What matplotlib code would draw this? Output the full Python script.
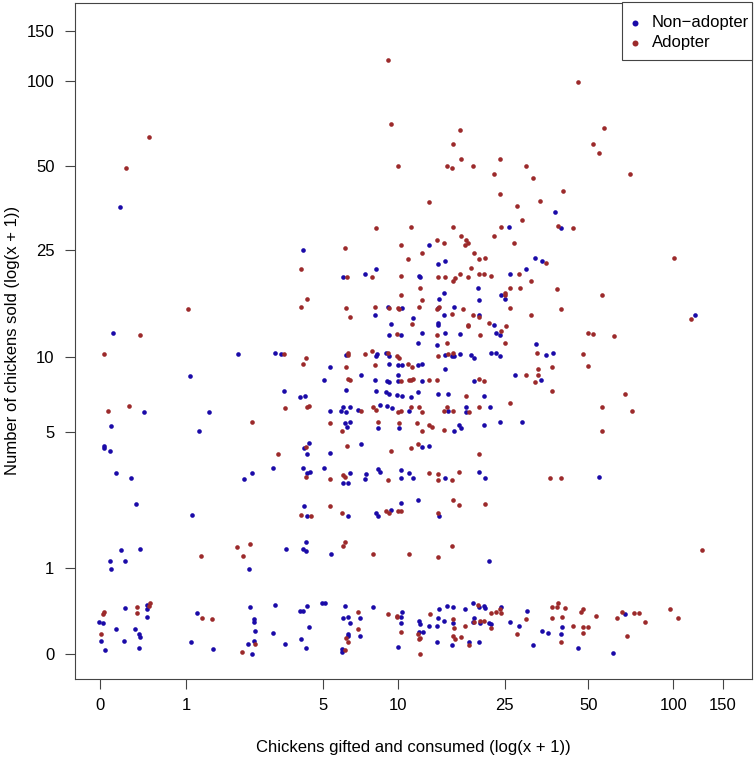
import numpy as np
import matplotlib
matplotlib.use("Agg")
import matplotlib.pyplot as plt
from matplotlib.patches import Rectangle

# values are log(x + 1) (points are jittered)
non_adopter_x = [
    0.16, 0.10, 1.11, 1.41, 1.46, 0.72, 1.48, 0.35, 0.88, 0.09, 0.80, 0.03, 0.03, 0.08,
    1.39, 0.13, 0.25, 1.16, 1.22, 0.29, 0.74, 0.17, 0.32, 1.50, 0.08, 0.20, 0.09, 1.20,
    3.71, 4.79, 4.02,
    1.63, 2.22, 2.13, 1.96, 2.57, 2.58, 2.32, 2.43, 2.21, 2.52, 2.34, 2.33, 2.42, 2.59,
    3.66, 3.29, 2.65, 3.50, 3.56, 2.72, 2.78, 3.43, 3.30, 3.04, 2.77, 3.23, 2.73, 3.05,
    3.26, 2.85, 2.72, 2.77, 3.05, 2.72, 2.72, 3.17, 2.78, 2.90, 3.19, 3.22,
    2.56, 1.98, 2.22, 2.23, 2.30, 2.33, 1.85, 2.33, 2.40, 2.43, 2.56, 2.59, 1.80, 2.10,
    2.21, 2.31, 2.33, 2.40, 2.40, 2.59, 1.61, 1.65, 1.98, 2.22, 2.30, 2.33, 2.39, 2.43,
    2.50, 2.56, 1.85, 1.94, 1.96, 1.98, 2.01, 2.08, 2.25, 2.31, 2.35, 2.49, 1.97, 2.01,
    1.99, 2.24, 2.41, 1.68, 1.64, 1.67, 1.85, 2.10, 2.59,
    2.71, 3.51, 2.78, 2.83, 2.85, 2.90, 2.99, 3.01, 3.15, 3.19, 3.22, 3.59, 3.65, 2.78,
    3.34, 3.55, 3.01, 2.72, 2.80, 3.09, 2.95, 3.14, 2.80, 2.95, 2.85, 2.89, 2.91, 3.09,
    3.22, 3.40, 2.65,
    1.63, 1.67, 1.69, 1.80, 2.01, 1.96, 2.00, 2.14, 2.13, 2.24, 2.25, 2.42, 2.42, 2.49,
    2.52, 2.78, 3.05, 3.10, 1.64, 1.67, 2.00, 2.22, 2.24, 2.34, 2.42, 2.56, 2.73, 1.66,
    1.63, 1.66, 1.86, 3.13,
    -0.01, 0.02, 0.01, 0.04, 0.20, 0.13, 0.19, 0.28, 0.31, 0.32, 0.31, 0.38, 0.38, 0.38,
    0.78, 0.73, 0.91, 1.21, 1.24, 1.24, 1.25, 1.24, 1.19, 1.22, 1.41, 1.39, 1.49, 1.61,
    1.63, 1.67, 1.68, 1.62, 1.66, 1.79, 1.81, 1.97, 1.96, 2.00, 2.09, 2.01, 2.00, 2.00,
    2.09, 1.95, 1.95, 2.20, 2.43, 2.42, 2.42, 2.40,
    2.57, 2.58, 2.57, 2.60, 2.65, 2.71, 2.73, 2.72, 2.71, 2.79, 2.77, 2.84, 2.84, 2.83,
    2.94, 3.00, 3.05, 3.09, 3.10, 3.01, 3.00, 3.06, 3.13, 3.15, 3.23, 2.97, 3.05, 3.30,
    3.37, 3.44, 3.49, 3.56, 3.61, 3.72, 3.71, 3.85, 4.13, 4.23,
]
non_adopter_y = [
    3.60, 2.59, 2.42, 2.43, 2.42, 2.24, 2.12, 1.95, 1.95, 1.84, 1.80, 1.68, 1.66, 1.64,
    1.50, 1.46, 1.42, 1.41, 1.46, 1.21, 1.12, 0.84, 0.85, 0.85, 0.75, 0.75, 0.69, 0.69,
    3.43, 2.73, 1.43,
    3.26, 3.10, 3.06, 3.04, 3.05, 3.04, 2.80, 2.79, 2.73, 2.71, 2.66, 2.57, 2.57, 2.59,
    3.56, 3.44, 3.30, 3.19, 3.17, 3.14, 3.17, 3.10, 3.06, 2.95, 2.91, 2.89, 2.86, 2.85,
    2.86, 2.80, 2.79, 2.73, 2.73, 2.67, 2.65, 2.65, 2.59, 2.58, 2.59, 2.57,
    2.51, 2.41, 2.40, 2.42, 2.43, 2.40, 2.31, 2.34, 2.33, 2.33, 2.33, 2.34, 2.21, 2.25,
    2.21, 2.20, 2.19, 2.25, 2.20, 2.20, 2.07, 2.08, 2.13, 2.12, 2.11, 2.10, 2.09, 2.08,
    2.07, 2.11, 1.96, 1.96, 1.99, 1.95, 1.99, 1.97, 2.01, 2.00, 1.98, 1.96, 1.86, 1.87,
    1.83, 1.82, 1.82, 1.70, 1.66, 1.61, 1.62, 1.69, 1.67,
    2.49, 2.50, 2.41, 2.40, 2.40, 2.42, 2.41, 2.39, 2.43, 2.43, 2.40, 2.41, 2.43, 2.30,
    2.25, 2.21, 2.20, 2.10, 2.10, 2.08, 1.99, 1.99, 1.96, 1.95, 1.80, 1.85, 1.82, 1.85,
    1.87, 1.87, 1.68,
    1.50, 1.46, 1.47, 1.50, 1.46, 1.38, 1.38, 1.45, 1.41, 1.49, 1.47, 1.48, 1.42, 1.46,
    1.42, 1.42, 1.47, 1.42, 1.19, 1.11, 1.11, 1.14, 1.11, 1.16, 1.22, 1.24, 1.11, 0.90,
    0.85, 0.83, 0.81, 0.75,
    0.26, 0.25, 0.11, 0.03, 0.37, 0.20, 0.11, 0.20, 0.16, 0.14, 0.05, 0.40, 0.36, 0.30,
    0.33, 0.10, 0.04, 0.38, 0.28, 0.26, 0.19, 0.11, 0.08, 0.00, 0.40, 0.17, 0.08, 0.35,
    0.35, 0.39, 0.22, 0.12, 0.05, 0.41, 0.41, 0.39, 0.29, 0.30, 0.29, 0.25, 0.16, 0.15,
    0.15, 0.04, 0.02, 0.38, 0.34, 0.30, 0.25, 0.06,
    0.27, 0.24, 0.18, 0.18, 0.23, 0.23, 0.36, 0.29, 0.10, 0.39, 0.27, 0.38, 0.25, 0.07,
    0.36, 0.41, 0.38, 0.39, 0.37, 0.29, 0.26, 0.25, 0.25, 0.24, 0.38, 0.10, 0.10, 0.26,
    0.23, 0.35, 0.07, 0.19, 0.17, 0.22, 0.16, 0.05, 0.01, 0.32,
]

adopter_x = [
    0.39, 0.21, 0.71,
    0.32, 0.03, 1.48, 0.06, 0.23, 1.49, 1.22, 1.43, 1.10, 1.21, 0.81, 1.15,
    2.32, 2.34, 2.40, 2.90, 2.84, 2.91, 2.79, 2.83, 3.00, 3.22, 3.17, 3.43, 3.49, 3.22,
    3.85, 4.06, 3.97, 4.02, 4.27, 3.73, 3.81, 4.62, 4.04, 3.71, 4.76, 3.93, 3.97,
    4.14, 3.89, 3.93, 4.23, 4.04, 4.28, 4.04, 3.71, 4.85,
    2.22, 2.50, 1.97, 2.42, 2.59, 2.48, 1.62, 1.99, 2.19, 2.42, 2.58, 2.42, 1.67, 1.62,
    2.59, 1.98, 2.21, 2.33, 2.40, 2.41, 2.57, 2.01, 2.51, 2.39,
    2.65, 3.36, 3.54, 3.40, 3.69, 2.84, 3.23, 2.91, 2.95, 3.17, 2.71, 2.77, 2.94, 2.96,
    3.33, 3.01, 3.05, 3.10, 3.59, 2.99, 2.72, 2.78, 2.86, 2.84, 2.90, 2.96, 3.05, 3.09,
    3.15, 3.37, 3.47, 3.30, 3.38, 3.68, 3.26, 3.26, 2.71, 2.73, 2.92, 3.30, 2.83, 3.00,
    3.05, 3.47, 2.96, 2.96, 3.13, 3.27, 2.71, 3.06, 3.23,
    1.66, 1.63, 2.00, 2.00, 2.13, 2.19, 2.32, 2.39, 2.41, 1.98, 2.21, 2.48, 2.51, 2.00,
    2.01, 2.42, 2.49, 2.50, 2.52, 1.67, 1.68, 2.10, 2.20, 2.22, 2.40, 2.42, 2.50, 2.57,
    2.59, 1.95, 1.85, 2.24, 2.41, 2.55, 2.59, 1.66, 1.99, 2.34, 2.50, 2.56,
    2.79, 3.26, 2.72, 2.80, 2.84, 3.52, 3.53, 3.64, 3.43, 3.53, 3.50, 2.65, 2.71, 3.05,
    3.09, 3.64, 2.95, 3.30, 3.05, 2.77, 2.79, 2.84, 2.97, 2.65, 2.67, 2.77, 3.05,
    1.66, 1.85, 1.96, 1.97, 2.32, 2.65, 2.72, 2.72, 2.83, 2.89, 3.62, 1.62, 1.70, 1.85,
    1.95, 2.30, 2.33, 2.40, 2.42, 2.72, 2.84, 2.89, 3.10, 1.97, 1.96, 2.20, 2.49, 2.72,
    2.83,
    0.02, 0.03, 0.01, 0.30, 0.30, 0.40, 0.39, 0.82, 0.90, 1.25, 1.14, 2.08, 2.08, 1.98,
    2.00, 1.97, 2.32, 2.39, 2.39, 2.42,
    2.56, 2.57, 2.58, 2.58, 2.66, 2.84, 2.85, 2.84, 2.86, 2.91, 2.94, 3.04, 3.01, 3.06,
    3.09, 3.15, 3.15, 3.19, 3.22, 3.23, 2.97, 3.36, 3.43, 3.64, 3.68, 3.69, 3.74, 3.64,
    3.72, 3.71, 3.81, 3.87, 3.89, 3.89, 3.93, 3.89, 3.99, 4.16, 4.20, 4.24, 4.30, 4.34,
    4.39, 4.59, 4.65,
]
adopter_y = [
    4.17, 3.92, 2.78,
    2.57, 2.42, 2.42, 1.96, 2.00, 1.98, 1.87, 1.61, 0.86, 0.89, 0.79, 0.79,
    4.79, 4.27, 3.93, 4.22, 4.11, 3.99, 3.93, 3.92, 3.93, 3.99, 3.87, 3.93, 3.84, 3.71,
    4.61, 4.24, 4.11, 4.04, 3.87, 3.73, 3.43, 3.19, 2.89, 2.78, 2.70, 2.59, 2.58,
    2.56, 2.42, 2.32, 2.10, 1.99, 1.96, 1.80, 1.42, 0.84,
    3.43, 3.44, 3.27, 3.30, 3.23, 3.18, 3.10, 3.04, 3.04, 3.05, 2.95, 2.89, 2.86, 2.80,
    2.85, 2.79, 2.80, 2.79, 2.79, 2.78, 2.80, 2.72, 2.66, 2.58,
    3.64, 3.61, 3.65, 3.50, 3.45, 3.44, 3.44, 3.37, 3.34, 3.37, 3.34, 3.31, 3.30, 3.31,
    3.31, 3.23, 3.18, 3.19, 3.15, 3.11, 3.04, 3.04, 3.03, 3.01, 3.06, 3.04, 3.06, 3.06,
    3.05, 3.06, 3.01, 2.95, 2.95, 2.94, 2.91, 2.89, 2.78, 2.80, 2.78, 2.79, 2.74, 2.73,
    2.72, 2.73, 2.65, 2.64, 2.67, 2.64, 2.57, 2.57, 2.60,
    2.39, 2.34, 2.43, 2.41, 2.42, 2.44, 2.43, 2.40, 2.39, 2.31, 2.33, 2.34, 2.31, 2.22,
    2.21, 2.20, 2.21, 2.21, 2.22, 1.99, 2.00, 1.96, 1.99, 1.97, 1.95, 1.96, 1.99, 1.99,
    1.95, 1.80, 1.86, 1.87, 1.86, 1.86, 1.80, 1.67, 1.68, 1.64, 1.66, 1.69,
    2.51, 2.51, 2.40, 2.42, 2.43, 2.43, 2.30, 2.31, 2.25, 2.25, 2.19, 2.21, 2.21, 2.22,
    2.20, 2.12, 2.08, 2.02, 1.99, 1.96, 1.99, 1.96, 1.95, 1.85, 1.83, 1.81, 1.61,
    1.43, 1.41, 1.44, 1.43, 1.40, 1.46, 1.45, 1.40, 1.40, 1.47, 1.42, 1.12, 1.11, 1.19,
    1.14, 1.15, 1.14, 1.15, 1.15, 1.14, 1.24, 1.20, 1.21, 0.90, 0.87, 0.81, 0.81, 0.78,
    0.87,
    0.32, 0.34, 0.16, 0.38, 0.33, 0.41, 0.39, 0.29, 0.28, 0.08, 0.02, 0.34, 0.20, 0.13,
    0.10, 0.03, 0.32, 0.31, 0.30, 0.18,
    0.16, 0.12, 0.13, 0.00, 0.32, 0.28, 0.21, 0.15, 0.12, 0.14, 0.23, 0.40, 0.26, 0.27,
    0.27, 0.21, 0.33, 0.34, 0.36, 0.33, 0.07, 0.16, 0.28, 0.38, 0.38, 0.41, 0.37, 0.29,
    0.30, 0.10, 0.23, 0.34, 0.36, 0.22, 0.22, 0.17, 0.31, 0.29, 0.34, 0.15, 0.33, 0.33,
    0.26, 0.36, 0.29,
]

tick_values = [0, 1, 5, 10, 25, 50, 100, 150]
tick_labels = [str(v) for v in tick_values]

blue = '#1a0aa8'
red = '#9c2a2b'
frame_col = '#444444'

plt.rcParams['font.family'] = ['Liberation Sans', 'DejaVu Sans']

W, H = 755, 759
fig = plt.figure(figsize=(W / 100, H / 100), dpi=100)
ax = fig.add_axes([75.3 / W, 80 / H, (752 - 75.3) / W, (679 - 2.5) / H])

ax.scatter(non_adopter_x, non_adopter_y, s=11, color=blue, linewidths=0, label='Non\u2212adopter')
ax.scatter(adopter_x, adopter_y, s=11, color=red, linewidths=0, label='Adopter')

ax.set_xlim(-0.2, 5.25)
ax.set_ylim(-0.2, 5.25)
ticks = np.log1p(tick_values)
ax.set_xticks(ticks)
ax.set_xticklabels(tick_labels)
ax.set_yticks(ticks)
ax.set_yticklabels(tick_labels)
ax.tick_params(direction='out', length=7, width=0.8, color=frame_col, labelsize=12)
ax.tick_params(axis='x', pad=7)
ax.tick_params(axis='y', pad=8)

for sp in ax.spines.values():
    sp.set_color(frame_col)
    sp.set_linewidth(0.8)

ax.set_xlabel('Chickens gifted and consumed (log(x + 1))', fontsize=12, labelpad=19)
ax.set_ylabel('Number of chickens sold (log(x + 1))', fontsize=12, labelpad=5)

# legend box drawn like R's legend(): tight box in the top-right corner
fig.patches.append(Rectangle((622 / W, 1 - 60 / H), (752 - 622) / W, (60 - 2.5) / H,
                             transform=fig.transFigure, facecolor='white',
                             edgecolor=frame_col, linewidth=0.8, zorder=5))
leg = fig.legend(loc='upper left', bbox_to_anchor=(626 / W, 1 - 15 / H), frameon=False,
                 fontsize=12, handlelength=1.08, handletextpad=0.48, markerscale=1.3,
                 borderpad=0, borderaxespad=0, labelspacing=0.3)
leg.set_zorder(6)

fig.savefig('out.png', dpi=100)
